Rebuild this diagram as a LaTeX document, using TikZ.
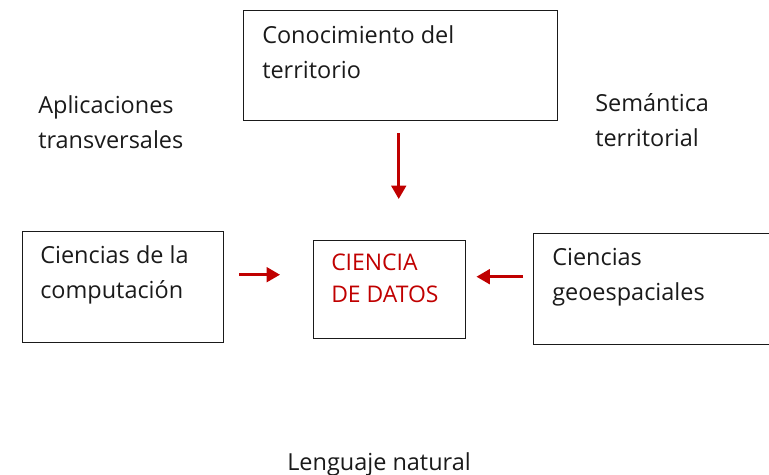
\documentclass[tikz,border=0pt]{standalone}
\usepackage{fontspec}
\setmainfont{Open Sans}
\usetikzlibrary{arrows.meta,positioning}
\definecolor{flecha}{HTML}{C00000}
\definecolor{tinta}{HTML}{1A1A1A}
\begin{document}
\begin{tikzpicture}[x=0.75pt, y=-0.75pt,
    box/.style={rectangle, draw=tinta, line width=1.1pt, anchor=north west, inner sep=0pt},
    txt/.style={anchor=base west, inner sep=0pt, align=left, text=tinta, font=\fontsize{17.6}{26.25}\selectfont},
    arrow/.style={line width=2pt, draw=flecha, -{Triangle[length=10pt, width=11pt]}}]
    \useasboundingbox (0,0) rectangle (769,475);

    \node [box, minimum width=235.5pt, minimum height=82.5pt] (top) at (243,10) {};
    \node [box, minimum width=150.75pt, minimum height=83.25pt] (comp) at (22,231) {};
    \node [box, minimum width=114pt, minimum height=73.5pt] (ciencia) at (313,240) {};
    \node [box, minimum width=181.5pt, minimum height=83.25pt] (geo) at (533,233) {};

    % anchors sit on the baseline of the second line
    \node [txt] (toptext) at (262,78) {Conocimiento del\\territorio};
    \node [txt] (comptext) at (40,298) {Ciencias de la\\computación};
    \node [txt, text=flecha, font=\fontsize{17.2}{24}\selectfont] (cienciatext) at (331,302) {CIENCIA\\DE DATOS};
    \node [txt] (geotext) at (552,300) {Ciencias\\geoespaciales};
    \node [txt] (aplicaciones) at (38,148) {Aplicaciones\\transversales};
    \node [txt] (semantica) at (595,146) {Semántica\\territorial};
    \node [txt] (lenguaje) at (287,470) {Lenguaje natural};

    \draw [arrow, shorten <=9pt, shorten >=30.75pt] ([xshift=-1.5pt]top.south) -- ([xshift=-1.5pt]top.south |- ciencia.north);
    \draw [arrow, shorten <=11.25pt, shorten >=24.75pt] ([yshift=9.4pt]comp.east) -- ([yshift=9.4pt]comp.east -| ciencia.west);
    \draw [arrow, shorten <=7.5pt, shorten >=7.5pt] ([yshift=9.4pt]geo.west) -- ([yshift=9.4pt]geo.west -| ciencia.east);
\end{tikzpicture}
\end{document}
